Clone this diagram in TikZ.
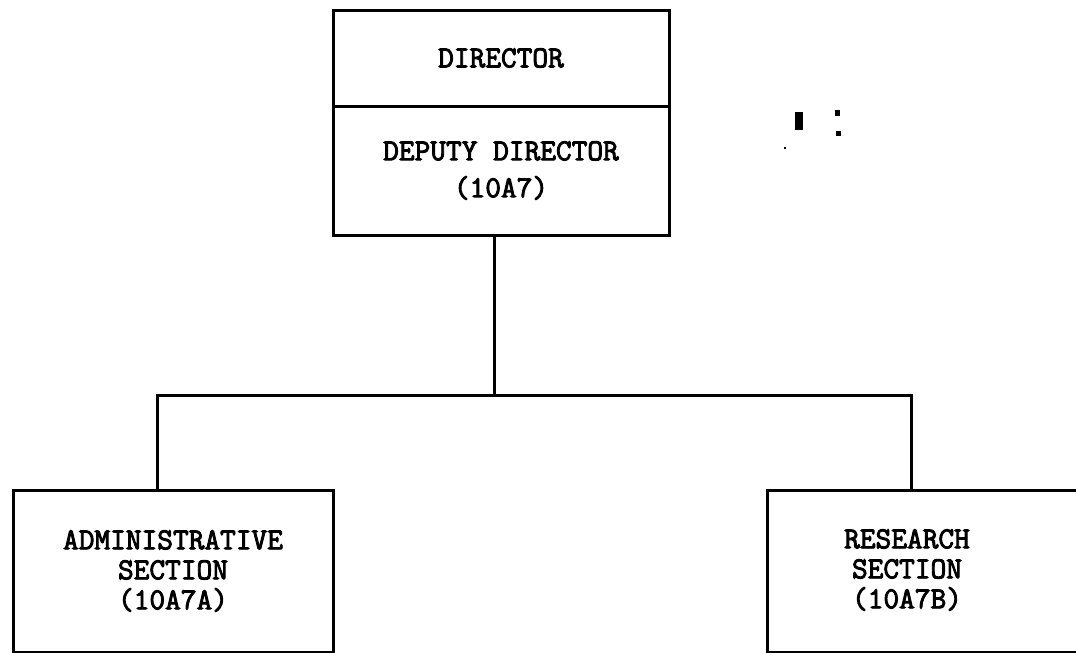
\documentclass[tikz,border=0pt]{standalone}
\usepackage{fontspec}
\newfontfamily\typew[FakeBold=3]{Latin Modern Mono}
\begin{document}
\begin{tikzpicture}[x=1pt,y=-1pt,
  box/.style={draw=black, line width=3pt, rectangle, inner sep=0pt, align=center,
    font=\typew\fontsize{30.5}{30}\selectfont},
  lbl/.style={inner sep=0pt, align=center, font=\typew\fontsize{30.5}{30}\selectfont},
  wire/.style={draw=black, line width=3pt},
  speck/.style={fill=black, draw=none}]
\useasboundingbox (0,0) rectangle (1076,653);
\clip (0,0) rectangle (1076,653);
% top box
\node[box, minimum width=336pt, minimum height=96pt] (dir) at (501,58) {DIRECTOR};
\node[box, minimum width=336pt, minimum height=129pt,
  font=\typew\fontsize{30.5}{37}\selectfont] (dep) at (501,170.5) {DEPUTY DIRECTOR\\(10A7)};
% bottom boxes
\node[box, minimum width=320pt, minimum height=162pt] (adm) at (173,571) {ADMINISTRATIVE\\SECTION\\(10A7A)};
\node[box, minimum width=340pt, minimum height=162pt] (res) at (937,571) {};
\node[lbl] (resl) at (907,570) {RESEARCH\\SECTION\\(10A7B)};
% connectors
\coordinate (j) at (494,395);
\coordinate (hl) at (157,395);
\coordinate (hr) at (911,395);
\draw[wire] ([xshift=-7pt]dep.south) -- (j);
\draw[wire] (adm.north -| hl) -- (hl) -- (hr) -- (res.north -| hr);
% scan specks
\fill[speck] (795,112) rectangle (803,130);
\fill[speck] (835,110) rectangle (840,116);
\fill[speck] (836,131) rectangle (841,136);
\fill[speck] (784,147) rectangle (786,149);
\end{tikzpicture}
\end{document}
